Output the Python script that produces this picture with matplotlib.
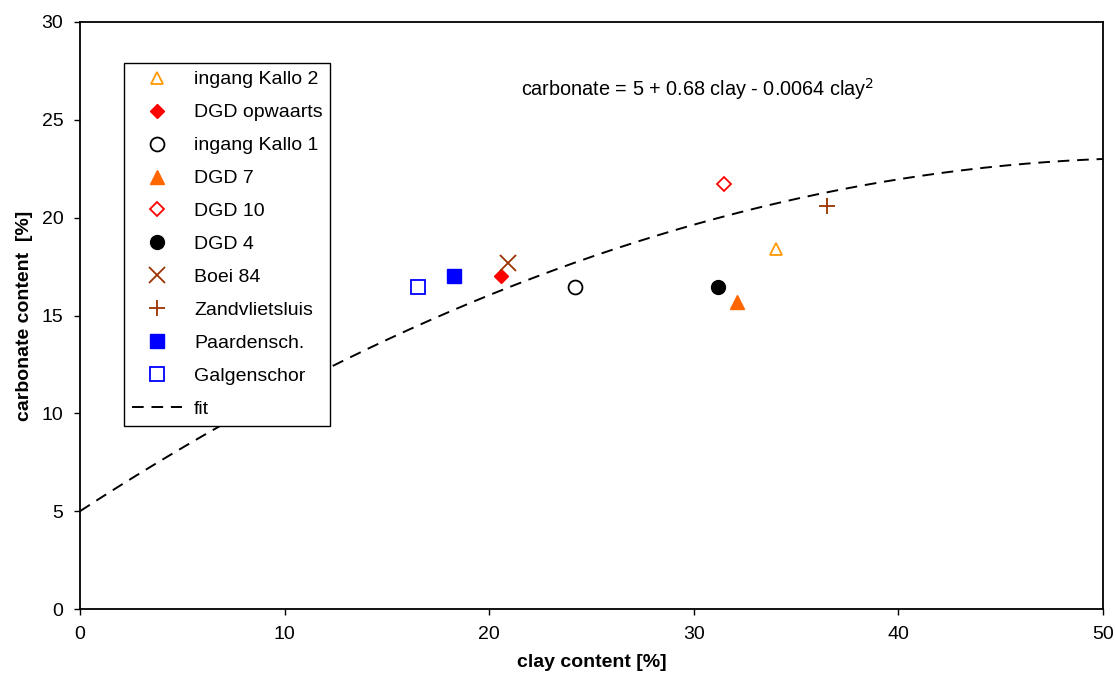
import numpy as np
import matplotlib
matplotlib.use("Agg")
import matplotlib.pyplot as plt

plt.rcParams['font.family'] = ['Liberation Sans', 'DejaVu Sans']

# data
series_names = ["ingang Kallo 2", "DGD opwaarts", "ingang Kallo 1", "DGD 7", "DGD 10",
                "DGD 4", "Boei 84", "Zandvlietsluis", "Paardensch.", "Galgenschor"]
clay = [34.0, 20.6, 24.2, 32.1, 31.5, 31.2, 20.9, 36.5, 18.3, 16.5]
carbonate = [18.4, 17.0, 16.45, 15.7, 21.7, 16.45, 17.7, 20.6, 17.0, 16.45]
fit_coef = [5, 0.68, -0.0064]
x_ticks = [0, 10, 20, 30, 40, 50]
y_ticks = [0, 5, 10, 15, 20, 25, 30]

styles = [
    dict(marker='^', mfc='none', mec='#FF9900', ms=9, mew=1.3),
    dict(marker='D', mfc='#FF0000', mec='#FF0000', ms=7, mew=1),
    dict(marker='o', mfc='none', mec='black', ms=10, mew=1.3),
    dict(marker='^', mfc='#FF6600', mec='#FF6600', ms=10, mew=1),
    dict(marker='D', mfc='none', mec='#FF0000', ms=7, mew=1.3),
    dict(marker='o', mfc='black', mec='black', ms=10, mew=1),
    dict(marker='x', mfc='none', mec='#993300', ms=11, mew=1.3),
    dict(marker='+', mfc='none', mec='#993300', ms=12, mew=1.3),
    dict(marker='s', mfc='#0000FF', mec='#0000FF', ms=10, mew=1),
    dict(marker='s', mfc='none', mec='#0000FF', ms=10, mew=1.3),
]

fs = 14

fig = plt.figure(figsize=(11.16, 6.84), dpi=100)
ax = fig.add_axes([80/1116, 75/684, 1023/1116, 587/684])

for name, cx, cy, st in zip(series_names, clay, carbonate, styles):
    ax.plot([cx], [cy], linestyle='none', label=name, **st)

xf = np.linspace(0, 50, 200)
yf = fit_coef[0] + fit_coef[1]*xf + fit_coef[2]*xf**2
ax.plot(xf, yf, 'k--', lw=1.4, dashes=(6, 4), label='fit')

ax.set_xlim(0, 50)
ax.set_ylim(0, 30)
ax.set_xticks(x_ticks)
ax.set_yticks(y_ticks)
ax.tick_params(direction='out', length=4, width=1, labelsize=fs, pad=8)
for s in ax.spines.values():
    s.set_linewidth(1.3)

ax.set_xlabel('clay content [%]', fontsize=fs, fontweight='bold', labelpad=8)
ax.set_ylabel('carbonate content  [%]', fontsize=fs, fontweight='bold', labelpad=6)

ax.text(0.431, 0.885, r'carbonate = 5 + 0.68 clay - 0.0064 clay$^2$', transform=ax.transAxes,
        fontsize=14.3, ha='left', va='center')

leg = ax.legend(loc='upper left', bbox_to_anchor=(44/1023, 1 - 41/587), fontsize=fs,
                frameon=True, fancybox=False, edgecolor='black', framealpha=1,
                handlelength=2.6, labelspacing=0.79, borderpad=0.4, handletextpad=0.6,
                borderaxespad=0)
leg.get_frame().set_linewidth(1.0)

fig.savefig('out.png', dpi=100)
